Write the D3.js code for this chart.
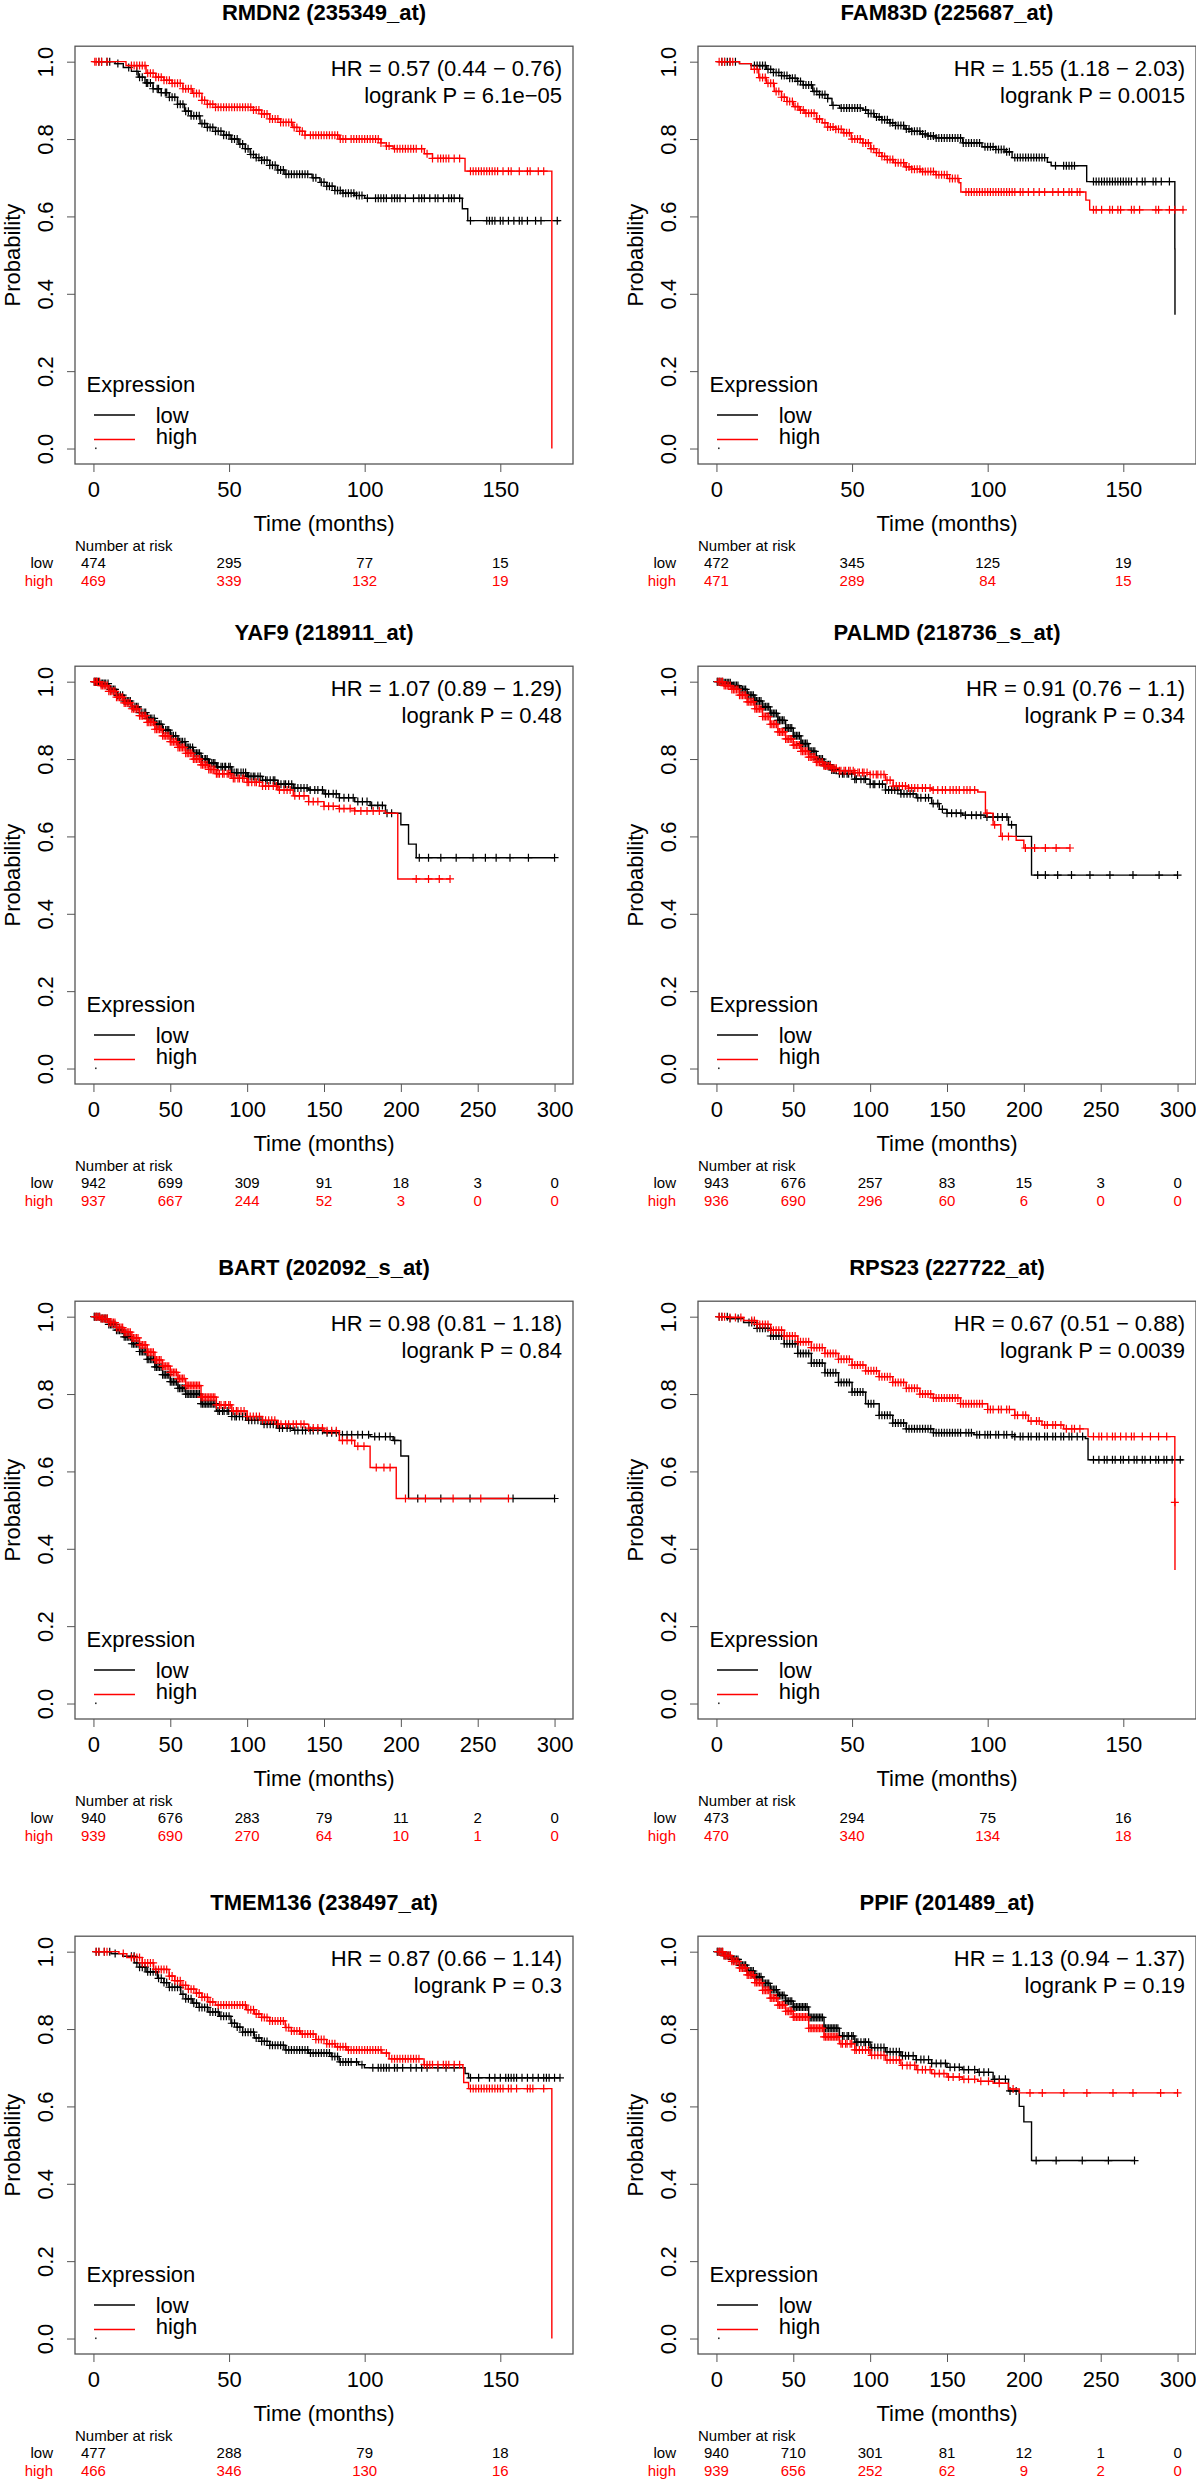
<!DOCTYPE html>
<html><head><meta charset="utf-8">
<script src="https://cdn.jsdelivr.net/npm/d3@7"></script>
<style>
html,body{margin:0;padding:0;background:#fff;}
svg{display:block;}
text{font-family:"Liberation Sans",Arial,Helvetica,sans-serif;}
</style></head><body>
<svg id="chart" width="1196" height="2480"></svg>
<script>
// ---------------- DATA ----------------
const titles = ["RMDN2 (235349_at)","FAM83D (225687_at)","YAF9 (218911_at)","PALMD (218736_s_at)",
  "BART (202092_s_at)","RPS23 (227722_at)","TMEM136 (238497_at)","PPIF (201489_at)"];
const hrLabels = ["HR = 0.57 (0.44 \u2212 0.76)","HR = 1.55 (1.18 \u2212 2.03)","HR = 1.07 (0.89 \u2212 1.29)","HR = 0.91 (0.76 \u2212 1.1)",
  "HR = 0.98 (0.81 \u2212 1.18)","HR = 0.67 (0.51 \u2212 0.88)","HR = 0.87 (0.66 \u2212 1.14)","HR = 1.13 (0.94 \u2212 1.37)"];
const pLabels = ["logrank P = 6.1e\u221205","logrank P = 0.0015","logrank P = 0.48","logrank P = 0.34",
  "logrank P = 0.84","logrank P = 0.0039","logrank P = 0.3","logrank P = 0.19"];
const maxTimes = [170,170,300,300,300,170,170,300];
const timeTicksShort = [0,50,100,150];
const timeTicksLong = [0,50,100,150,200,250,300];
const probTicks = [0,0.2,0.4,0.6,0.8,1.0];
const riskLow = [[474,295,77,15],[472,345,125,19],[942,699,309,91,18,3,0],[943,676,257,83,15,3,0],
  [940,676,283,79,11,2,0],[473,294,75,16],[477,288,79,18],[940,710,301,81,12,1,0]];
const riskHigh = [[469,339,132,19],[471,289,84,15],[937,667,244,52,3,0,0],[936,690,296,60,6,0,0],
  [939,690,270,64,10,1,0],[470,340,134,18],[466,346,130,16],[939,656,252,62,9,2,0]];

// Kaplan-Meier steps [time, survival]
const rmdn2Low = [[0,1],[8,0.995],[11,0.985],[14,0.975],[16.5,0.96],[19,0.945],[22,0.93],[25,0.92],[28,0.908],[31,0.89],[33.6,0.872],[36,0.86],[39.3,0.84],[42,0.83],[45,0.82],[48,0.81],[50.7,0.8],[53.6,0.787],[56,0.775],[57.8,0.76],[60,0.752],[62,0.745],[65,0.732],[67.8,0.72],[70.6,0.709],[80.6,0.7],[83.5,0.688],[86,0.678],[89,0.667],[92,0.66],[96.3,0.654],[100,0.647],[136,0.62],[138,0.589],[172,0.589]];
const rmdn2High = [[0,1],[12,0.99],[19.4,0.97],[23,0.96],[26,0.952],[29,0.944],[33,0.93],[36.5,0.918],[40,0.9],[42,0.89],[45,0.882],[59,0.875],[62,0.865],[65,0.852],[69,0.843],[73.5,0.83],[76,0.82],[78,0.81],[90.6,0.8],[106,0.79],[108,0.782],[110.5,0.775],[122,0.762],[125,0.75],[137,0.717],[169,0]];
const fam83dLow = [[0,1],[8.5,0.995],[12.8,0.99],[18.4,0.98],[21,0.972],[24,0.964],[27,0.957],[29.8,0.949],[32,0.94],[35.5,0.923],[38,0.915],[41,0.905],[42.6,0.887],[45.4,0.88],[54,0.875],[56,0.866],[58.2,0.857],[61,0.85],[63.9,0.842],[66,0.835],[69.5,0.826],[72,0.82],[75.2,0.813],[78,0.808],[80.9,0.803],[90.8,0.79],[97.9,0.78],[103,0.773],[106.4,0.767],[109,0.752],[122,0.74],[123.4,0.731],[136.5,0.69],[169,0.516],[169.05,0.346]];
const fam83dHigh = [[0,1],[8.5,0.995],[12.8,0.98],[15.6,0.959],[18.4,0.944],[21.3,0.923],[24,0.908],[26,0.897],[28.4,0.884],[30.5,0.875],[32.6,0.867],[36.9,0.852],[39,0.842],[41,0.831],[44,0.825],[46.8,0.816],[49.7,0.8],[54,0.79],[56.8,0.775],[59,0.765],[61,0.755],[63,0.747],[65.3,0.739],[69.5,0.728],[72,0.722],[75.2,0.716],[80.9,0.708],[85.1,0.698],[89.4,0.687],[90.1,0.663],[136.2,0.642],[137.6,0.617],[172.5,0.617]];
const yaf9Low = [[0,1],[5,0.995],[10,0.98],[15,0.965],[20,0.95],[25,0.935],[30,0.92],[35,0.905],[40,0.89],[45,0.875],[50,0.86],[55,0.845],[60,0.83],[65,0.815],[70,0.8],[75,0.79],[80,0.78],[90,0.765],[100,0.755],[110,0.745],[120,0.735],[130,0.725],[140,0.72],[150,0.71],[160,0.7],[170,0.69],[180,0.68],[190,0.66],[200,0.63],[205,0.58],[210,0.545],[300,0.545]];
const yaf9High = [[0,1],[5,0.99],[10,0.975],[15,0.96],[20,0.945],[25,0.93],[30,0.912],[35,0.895],[40,0.877],[45,0.86],[50,0.845],[55,0.83],[60,0.815],[65,0.8],[70,0.785],[75,0.773],[80,0.762],[90,0.75],[100,0.74],[110,0.73],[120,0.72],[130,0.705],[140,0.69],[150,0.678],[160,0.672],[170,0.666],[190,0.66],[198,0.49],[232,0.49]];
const palmdLow = [[0,1],[5,0.997],[10,0.99],[15,0.98],[20,0.965],[25,0.95],[30,0.935],[35,0.918],[40,0.9],[45,0.88],[50,0.86],[55,0.84],[60,0.82],[65,0.8],[70,0.785],[75,0.772],[80,0.762],[90,0.748],[100,0.735],[110,0.72],[120,0.71],[130,0.7],[140,0.685],[145,0.67],[150,0.66],[160,0.655],[175,0.65],[190,0.63],[195,0.6],[205,0.5],[300,0.5]];
const palmdHigh = [[0,1],[5,0.99],[10,0.98],[15,0.965],[20,0.948],[25,0.93],[30,0.91],[35,0.89],[40,0.87],[45,0.852],[50,0.836],[55,0.82],[60,0.805],[65,0.792],[70,0.782],[75,0.776],[80,0.77],[90,0.765],[100,0.76],[110,0.745],[115,0.73],[125,0.725],[140,0.72],[170,0.715],[175,0.66],[180,0.63],[185,0.6],[195,0.59],[200,0.57],[230,0.57]];
const bartLow = [[0,1],[5,0.995],[10,0.98],[15,0.965],[20,0.948],[25,0.93],[30,0.91],[35,0.89],[40,0.87],[45,0.85],[50,0.832],[55,0.815],[60,0.8],[70,0.775],[80,0.756],[90,0.742],[100,0.732],[110,0.722],[120,0.712],[130,0.706],[150,0.7],[160,0.695],[180,0.69],[195,0.68],[200,0.64],[205,0.53],[300,0.53]];
const bartHigh = [[0,1],[5,0.995],[10,0.985],[15,0.972],[20,0.96],[25,0.945],[30,0.927],[35,0.908],[40,0.888],[45,0.872],[50,0.856],[55,0.84],[60,0.822],[70,0.792],[80,0.772],[90,0.756],[100,0.742],[110,0.732],[120,0.722],[140,0.712],[150,0.705],[160,0.68],[170,0.665],[180,0.61],[197,0.53],[270,0.53]];
const rps23Low = [[0,1],[5,0.995],[10,0.985],[15,0.97],[20,0.95],[25,0.93],[30,0.905],[35,0.88],[40,0.855],[45,0.83],[50,0.805],[55,0.775],[60,0.745],[65,0.725],[70,0.71],[80,0.7],[95,0.695],[110,0.69],[136,0.685],[137,0.63],[172,0.63]];
const rps23High = [[0,1],[5,0.998],[10,0.99],[15,0.98],[20,0.965],[25,0.95],[30,0.935],[35,0.92],[40,0.905],[45,0.89],[50,0.875],[55,0.86],[60,0.845],[65,0.83],[70,0.815],[75,0.8],[80,0.79],[90,0.775],[100,0.76],[110,0.745],[115,0.73],[120,0.72],[128,0.71],[137,0.69],[169,0.52],[169.05,0.345]];
const tmem136Low = [[0,1],[6.5,0.995],[10.8,0.988],[15.1,0.971],[17,0.96],[19.4,0.948],[23.6,0.931],[26,0.92],[27.9,0.908],[32.2,0.89],[34,0.878],[36.5,0.867],[39,0.856],[42.2,0.844],[46.4,0.833],[50.7,0.815],[53,0.805],[55,0.792],[59.3,0.777],[62,0.768],[65,0.758],[70.7,0.746],[79.2,0.738],[87.7,0.729],[90.6,0.715],[97.7,0.708],[99.9,0.7],[137,0.685],[138.3,0.674],[172,0.674]];
const tmem136High = [[0,1],[9.4,0.995],[12.3,0.985],[18,0.971],[22.2,0.954],[27.9,0.937],[30,0.925],[32.2,0.913],[35,0.903],[37.9,0.893],[40,0.882],[42.2,0.87],[45,0.862],[56.4,0.85],[59.3,0.839],[62,0.83],[65,0.821],[70.7,0.804],[73,0.795],[76.4,0.787],[82,0.773],[86,0.762],[89.2,0.754],[93.4,0.746],[106.3,0.738],[109,0.723],[121.9,0.708],[136.2,0.7],[136.5,0.662],[138.3,0.646],[169,0]];
const ppifLow = [[0,1],[5,0.99],[10,0.98],[15,0.965],[20,0.95],[25,0.935],[30,0.918],[35,0.902],[40,0.887],[45,0.872],[50,0.857],[60,0.83],[70,0.802],[80,0.782],[90,0.766],[100,0.752],[110,0.741],[120,0.731],[130,0.721],[140,0.711],[150,0.701],[160,0.695],[170,0.688],[180,0.67],[190,0.64],[197,0.6],[200,0.56],[205,0.46],[272,0.46]];
const ppifHigh = [[0,1],[5,0.99],[10,0.975],[15,0.958],[20,0.94],[25,0.92],[30,0.9],[35,0.88],[40,0.862],[45,0.846],[50,0.831],[60,0.802],[70,0.78],[80,0.762],[90,0.746],[100,0.732],[110,0.72],[120,0.706],[130,0.695],[140,0.685],[150,0.676],[160,0.67],[170,0.665],[180,0.66],[190,0.645],[197,0.635],[300,0.635]];

// censoring times
const rmdn2LowCens = [2,3,5,6,9,13,16,17,18,19.5,20,21,22,23.5,24,25,26.5,27,28,29,30,31,32,33,34,35,36,37,38,39,40,41,42,43,44,45,46,47,48,49,50,51,52,53,54,55,56,57,58,59,60,61,62,63,64,65,66,67,68,69,70,71,72,73,74,75,76,77,78,79,81,82,84,85,86,87,88,89,90,91,92,93,94,95,96,97,98,99,101,104,105,106,107,108,110,111,112,113,115,118,120,121,122,124,126,127,129,131,132,133,135,139,145,146,147,148,150,151,153,155,157,158,160,163,165,171];
const rmdn2HighCens = [0.5,1,2,3,5,14,15,16,17,18,19,20,21,22,23,24,25,26,27,28,29,30,31,32,33,34,35,36,37,38,39,40,41,42,43,44,45,46,47,48,49,50,51,52,53,54,55,56,57,58,59,60,61,62,63,64,65,66,67,68,69,70,71,72,73,74,75,76,77,78,80,81,82,83,84,85,86,87,88,89,90,91,92,93,95,96,97,98,99,100,101,102,103,104,105,106,108,109,111,112,113,114,115,116,117,118,119,121,123,125,127,128,129,130,131,133,135,139,140,141,142,143,144,145,146,147,148,149,151,153,154,157,160,161,164,166];
const fam83dLowCens = [2,3,4,5,7,14,15,16,17,18,19,20,21,22,23,24,25,26,27,28,29,30,31,32,33,34,35,36,37,38,39,40,41,43,46,47,48,49,50,51,52,53,55,56,57,58,59,60,61,62,63,64,65,66,67,68,69,70,71,72,73,74,75,76,77,78,79,80,81,82,83,84,85,86,87,88,89,90,91,92,93,94,95,96,97,99,100,101,102,103,104,105,106,107,108,110,111,112,113,114,115,116,117,118,119,120,121,125,128,129,130,131,132,139,140,141,142,143,144,145,146,147,148,149,150,151,152,153,155,157,158,161,162,164,167];
const fam83dHighCens = [1,2,3,5,6,14,15,16,17,18,19,20,21,22,23,24,25,26,27,28,29,30,31,32,33,34,35,36,37,38,40,41,42,43,44,45,46,47,48,49,50,51,52,53,54,55,56,57,58,59,60,61,62,63,64,65,66,67,68,69,70,71,72,73,74,75,76,77,78,79,80,81,82,83,84,85,86,87,88,89,92,93,94,95,96,97,98,99,100,101,102,103,104,105,106,107,108,109,110,112,113,115,117,119,121,124,126,128,130,131,133,134,139,140,142,145,146,148,149,153,154,156,162,163,167,169,172];
const yaf9LowCens = [0.5,1,1.5,2,3,3.5,5,6,7,8,9.5,11,12,13,14,15.5,16,17.5,19,20,21,22,23,24,25.5,27,28,29,30,31.5,33,34,35,36,37,38,39.5,41,42,43,44,45.5,47,48,49,50,51,52,53.5,55,56,57,58,59.5,61,62,63,64.5,66,67,68,69,70.5,71,72.5,73,74,75.5,77,78,79,80.5,81,83,84,85.5,86,88,89,90,91.5,93,94,96,97.5,99,100,101,102.5,104,105,107,108.5,110,112,113,115,117,118,120,122,124,125,127,129,131,133,135,137,139,141,144,146,149,151,153,156,158,160,163,166,169,172,175,178,181,185,188,191,194,212,218,226,236,247,255,262,271,283,300];
const yaf9HighCens = [0.5,1,2,2.5,4,5,6,7,8,9,10,11,12,13,14,15,16,17,18,19,20,21,22,23,24,25,26,27,28,29,30,31,32,33,34,35,36,37,38,39,40,41,42,43,44,45,46,47,48,49,50,51,52,53,54,55,56,57,58,59,60,61,62,63,64,65,66,67,68,69,70,71,72,73,74,75,76,77,78,79,80,81,82,84,85,87,88,89,91,92,94,95,97,98,100,101,103,105,106,108,110,112,114,117,119,121,124,126,128,131,134,137,140,143,146,150,153,156,160,163,167,170,174,178,182,186,210,218,225,232];
const palmdLowCens = [0.5,1,2,3,4,5,6,7,8,9,10,11,12,13,14,15,16,17,18,19,20,21,22,23,24,25,26,27,28,29,30,31,32,33,34,35,36,37,38,39,40,41,42,43,44,45,46,47,48,49,50,51,52,53,54,55,56,57,58,59,60,61,62,63,64,65,66,67,68,69,70,71,72,73,74,75,76,77,78,80,82,83,85,86,88,90,91,94,96,97,100,102,103,106,108,110,112,114,116,118,120,122,124,126,128,131,133,136,138,141,144,147,150,153,156,159,162,166,169,172,176,180,183,186,189,192,209,214,222,231,243,256,271,288,300];
const palmdHighCens = [1,2,3,4,5,6,7,8,9,10,11,12,13,14,15,16,17,18,19,20,21,22,23,24,25,26,27,28,29,30,31,32,33,34,35,36,37,38,39,40,41,42,43,44,45,46,47,48,49,50,51,52,53,54,55,56,57,58,59,60,61,62,63,64,65,66,67,68,69,70,71,72,73,74,75,76,77,78,80,81,83,84,86,87,89,90,92,93,95,96,98,100,102,104,105,107,109,111,113,115,117,119,121,123,125,127,129,131,134,136,139,141,144,147,149,152,154,156,158,161,163,165,168,176,181,186,190,201,207,214,221,230];
const bartLowCens = [0.5,1,2,3,4,5,6,7,8,9,10,11,12,13,14,15,16,17,18,19,20,21,22,23,24,25,26,27,28,29,30,31,32,33,34,35,36,37,38,39,40,41,42,43,44,45,46,47,48,49,50,51,52,53,54,55,56,57,58,59,60,61,62,63,64,65,66,67,68,69,70,71,72,73,74,75,76,77,78,79,81,82,84,85,87,88,90,92,93,95,97,99,101,103,105,107,109,111,113,115,117,119,121,123,126,128,131,133,136,138,141,143,146,149,152,155,158,162,165,168,172,175,179,183,186,190,193,196,211,226,245,273,300];
const bartHighCens = [1,2,3,4,5,6,7,8,9,10,11,12,13,14,15,16,17,18,19,20,21,22,23,24,25,26,27,28,29,30,31,32,33,34,35,36,37,38,39,40,41,42,43,44,45,46,47,48,49,50,51,52,53,54,55,56,57,58,59,60,61,62,63,64,65,66,67,68,69,70,71,72,73,74,75,76,77,78,79,80,82,83,85,86,88,89,91,93,94,96,98,100,102,104,106,108,110,112,114,116,118,120,122,125,127,130,132,135,137,140,143,146,149,152,155,158,162,165,168,172,176,184,189,193,203,216,234,252,270];
const rps23LowCens = [1,2,4,5,8,12,13,14,15,16,17,18,19,20,21,22,23,24,25,26,27,28,29,30,31,32,33,34,35,36,37,38,39,40,41,42,43,44,45,46,47,48,49,50,51,52,53,54,56,57,58,60,61,62,63,64,65,66,67,68,69,70,71,72,73,74,75,76,77,78,79,80,81,82,83,84,85,86,87,88,89,90,92,93,94,96,97,99,100,101,103,104,106,107,109,110,112,113,115,116,118,119,121,122,124,125,127,128,130,131,133,135,139,141,143,144,146,147,149,150,152,154,155,157,158,160,162,163,165,166,168,171];
const rps23HighCens = [1,2,3,5,7,9,13,14,15,16,17,18,19,20,21,22,23,24,25,26,27,28,29,30,31,32,33,34,35,36,37,38,39,40,41,42,43,44,45,46,47,48,49,50,51,52,53,54,55,56,57,58,59,60,61,62,63,64,65,66,67,68,69,70,71,72,73,74,75,76,77,78,79,80,81,82,83,84,85,86,87,88,89,90,91,92,93,94,95,96,97,98,100,101,102,104,105,107,108,110,111,113,114,116,118,119,121,122,124,125,127,129,131,132,134,139,141,142,144,146,147,149,151,153,154,157,160,163,166,169];
const tmem136LowCens = [1,2,4,6,8,14,15,16,17,18,19,20,21,22,23,24,25,26,27,28,29,30,31,32,33,34,35,36,37,38,39,40,41,42,43,44,45,46,47,48,49,50,51,52,53,54,55,56,57,58,59,60,61,62,63,64,65,66,67,68,69,70,71,72,73,74,75,76,77,78,79,80,81,82,83,84,85,86,87,88,89,90,91,92,93,94,95,97,99,103,105,106,107,108,109,111,112,114,117,119,121,123,127,130,133,139,142,146,148,150,152,153,154,155,156,158,160,162,164,166,167,168,170,172];
const tmem136HighCens = [1,2,4,5,11,14,15,16,17,18,19,20,21,22,23,24,25,26,27,28,29,30,31,32,33,34,35,36,37,38,39,40,41,42,43,44,46,47,48,49,50,51,52,53,54,55,56,57,58,59,60,61,62,63,64,65,66,67,68,69,70,71,72,73,74,75,76,77,78,79,80,81,82,83,84,85,86,87,88,89,90,91,92,93,94,95,96,97,98,99,100,101,102,103,104,105,106,108,110,111,112,113,114,115,116,117,118,119,120,122,123,124,125,127,129,130,131,133,135,139,140,141,142,143,144,145,146,147,148,149,150,151,153,154,156,160,161,162,166];
const ppifLowCens = [0.5,1,2,3,4,5,6,7,8,9,10,11,12,13,14,15,16,17,18,19,20,21,22,23,24,25,26,27,28,29,30,31,32,33,34,35,36,37,38,39,40,41,42,43,44,45,46,47,48,49,50,51,52,53,54,55,56,57,58,59,60,61,62,63,64,65,66,67,68,69,70,71,72,73,74,75,76,77,78,79,80,82,83,85,86,88,89,91,92,94,96,97,99,101,103,105,107,109,111,113,115,117,119,121,123,125,128,130,133,135,138,140,143,146,149,152,155,158,161,164,168,171,174,177,181,184,188,191,195,208,221,238,255,272];
const ppifHighCens = [1,2,3,4,5,6,7,8,9,10,11,12,13,14,15,16,17,18,19,20,21,22,23,24,25,26,27,28,29,30,31,32,33,34,35,36,37,38,39,40,41,42,43,44,45,46,47,48,49,50,51,52,53,54,55,56,57,58,59,60,61,62,63,64,65,66,67,68,69,70,71,72,73,74,75,76,77,78,79,81,82,84,85,87,88,90,91,93,95,97,99,101,103,105,107,109,111,113,115,117,119,121,124,126,129,131,134,136,139,142,145,148,151,154,158,161,164,168,172,177,184,193,204,212,226,241,258,271,289,300];

const lowCurves = [rmdn2Low,fam83dLow,yaf9Low,palmdLow,bartLow,rps23Low,tmem136Low,ppifLow];
const highCurves = [rmdn2High,fam83dHigh,yaf9High,palmdHigh,bartHigh,rps23High,tmem136High,ppifHigh];
const lowCens = [rmdn2LowCens,fam83dLowCens,yaf9LowCens,palmdLowCens,bartLowCens,rps23LowCens,tmem136LowCens,ppifLowCens];
const highCens = [rmdn2HighCens,fam83dHighCens,yaf9HighCens,palmdHighCens,bartHighCens,rps23HighCens,tmem136HighCens,ppifHighCens];

// ---------------- LAYOUT ----------------
const colX = [0, 623];
const rowY = [0, 620, 1255, 1890];
const L = 75, R = 573, T = 46.2, B = 464;
const colors = {low: "#000000", high: "#ff0000"};
const FONT = '"Liberation Sans",Arial,Helvetica,sans-serif';

const svg = d3.select("#chart");
svg.append("rect").attr("width",1196).attr("height",2480).attr("fill","#fff");

function survAt(steps, t){
  let s = steps[0][1];
  for (const p of steps){ if (p[0] <= t) s = p[1]; else break; }
  return s;
}

titles.forEach((title, i) => {
  const g = svg.append("g").attr("transform", `translate(${colX[i%2]},${rowY[Math.floor(i/2)]})`);
  const Tm = maxTimes[i];
  const ticks = Tm > 200 ? timeTicksLong : timeTicksShort;
  const x = d3.scaleLinear().domain([-0.04*Tm, 1.04*Tm]).range([L, R]);
  const y = d3.scaleLinear().domain([-0.04, 1.04]).range([B, T]);

  g.append("text").attr("x", (L+R)/2).attr("y", 20).attr("text-anchor","middle")
    .attr("font-weight","bold").attr("font-size",22).text(title);

  // axes
  const xa = g.append("g").attr("transform",`translate(0,${B})`)
    .call(d3.axisBottom(x).tickValues(ticks).tickSize(8).tickPadding(9).tickFormat(d3.format("d")));
  xa.select(".domain").remove();
  xa.attr("font-size",22).attr("font-family",FONT).attr("color","#555");
  xa.selectAll("text").attr("fill","#000");

  const ya = g.append("g").attr("transform",`translate(${L},0)`)
    .call(d3.axisLeft(y).tickValues(probTicks).tickSize(8).tickFormat(d3.format(".1f")));
  ya.select(".domain").remove();
  ya.attr("font-size",22).attr("font-family",FONT).attr("color","#555");
  ya.selectAll("text").attr("fill","#000").attr("x",null).attr("dy",null).attr("y",null)
    .attr("text-anchor","middle").attr("transform","translate(-21.7,0) rotate(-90)");

  // box
  g.append("rect").attr("x",L).attr("y",T).attr("width",R-L).attr("height",B-T)
    .attr("fill","none").attr("stroke","#555").attr("stroke-width",1.3);

  // curves
  const line = d3.line().x(d=>x(d[0])).y(d=>y(d[1])).curve(d3.curveStepAfter);
  const series = [
    {name:"low", steps: lowCurves[i], cens: lowCens[i]},
    {name:"high", steps: highCurves[i], cens: highCens[i]}
  ];
  series.forEach(s => {
    g.append("path").datum(s.steps).attr("d", line).attr("fill","none")
      .attr("stroke", colors[s.name]).attr("stroke-width",1.4);
    g.append("g").selectAll("path").data(s.cens).join("path")
      .attr("d", t => { const cx = x(t), cy = y(survAt(s.steps, t));
        return `M${cx-4},${cy}h8M${cx},${cy-4}v8`; })
      .attr("stroke", colors[s.name]).attr("stroke-width",1.2).attr("fill","none");
  });

  // HR text
  g.append("text").attr("x",562).attr("y",76).attr("text-anchor","end").attr("font-size",22).text(hrLabels[i]);
  g.append("text").attr("x",562).attr("y",103).attr("text-anchor","end").attr("font-size",22).text(pLabels[i]);

  // legend
  g.append("text").attr("x",86.5).attr("y",391.5).attr("font-size",22).text("Expression");
  [["low",415,423],["high",439.5,444]].forEach(([nm, ly, ty]) => {
    g.append("line").attr("x1",94).attr("x2",135).attr("y1",ly).attr("y2",ly)
      .attr("stroke",colors[nm]).attr("stroke-width",1.3);
    g.append("text").attr("x",155.7).attr("y",ty).attr("font-size",22).text(nm);
  });
  g.append("rect").attr("x",95).attr("y",447.5).attr("width",1.6).attr("height",1.6).attr("fill","#333");

  // axis titles
  g.append("text").attr("x",(L+R)/2).attr("y",531).attr("text-anchor","middle").attr("font-size",22).text("Time (months)");
  g.append("text").attr("transform",`translate(20,${(T+B)/2}) rotate(-90)`).attr("text-anchor","middle")
    .attr("font-size",22).text("Probability");

  // risk table
  g.append("text").attr("x",L).attr("y",550.5).attr("font-size",15).text("Number at risk");
  const rows = [{name:"low", vals:riskLow[i], yb:567.7},{name:"high", vals:riskHigh[i], yb:585.7}];
  rows.forEach(r => {
    g.append("text").attr("x",53).attr("y",r.yb).attr("text-anchor","end").attr("font-size",15)
      .attr("fill",colors[r.name]).text(r.name);
    g.append("g").selectAll("text").data(r.vals).join("text")
      .attr("x",(d,k)=>x(ticks[k])).attr("y",r.yb).attr("text-anchor","middle").attr("font-size",15)
      .attr("fill",colors[r.name]).text(d=>d);
  });
});
</script></body></html>
